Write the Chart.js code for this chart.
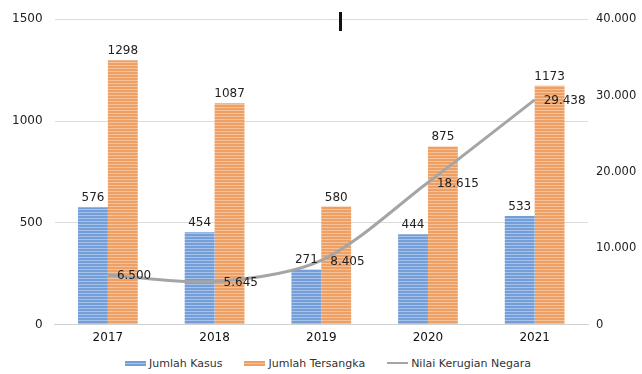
<!DOCTYPE html>
<html>
<head>
<meta charset="utf-8">
<script src="https://cdn.jsdelivr.net/npm/chart.js@4"></script>
<style>
    html, body { margin: 0; padding: 0; background: #fff; }
    #wrap { position: relative; width: 642px; height: 374px; overflow: hidden; }
    #chart { position: absolute; left: 0; top: 0; }
    #mark { position: absolute; left: 339px; top: 12px; width: 3px; height: 19px; background: #111; }
    #legend {
        position: absolute; left: 0; top: 355px; width: 656px; height: 16px;
        display: flex; justify-content: center; align-items: center; gap: 22px;
        font: 11px 'DejaVu Sans', sans-serif; color: #333;
    }
    .item { display: flex; align-items: center; gap: 3px; white-space: nowrap; }
    .swatch { width: 21px; height: 5px; }
</style>
</head>
<body>
<div id="wrap">
    <canvas id="chart" width="642" height="351"></canvas>
    <div id="mark"></div>
    <div id="legend"></div>
</div>
<script>
const years = ["2017", "2018", "2019", "2020", "2021"];
const jumlahKasus = [576, 454, 271, 444, 533];
const jumlahTersangka = [1298, 1087, 580, 875, 1173];
const nilaiKerugian = [6500, 5645, 8405, 18615, 29438];
const leftTicks = [0, 500, 1000, 1500];
const rightTicks = [0, 10000, 20000, 30000, 40000];

const FONT = "'DejaVu Sans', sans-serif";

const BLUE = ["#739ed8", "#a7c2ea"];
const ORANGE = ["#ee9f64", "#f6c29b"];
const GREY = "#a5a5a5";

function stripes(colors) {
    const c = document.createElement("canvas");
    c.width = 4;
    c.height = 3;
    const g = c.getContext("2d");
    g.fillStyle = colors[0];
    g.fillRect(0, 0, 4, 3);
    g.fillStyle = colors[1];
    g.fillRect(0, 2, 4, 1);
    return g.createPattern(c, "repeat");
}

function fmt(v) {
    return String(v).replace(/\B(?=(\d{3})+(?!\d))/g, ".");
}

const labelPlugin = {
    id: "valueLabels",
    afterDatasetsDraw(chart) {
        const ctx = chart.ctx;
        ctx.save();
        ctx.font = "12px " + FONT;
        ctx.fillStyle = "#222";
        chart.data.datasets.forEach((ds, i) => {
            const meta = chart.getDatasetMeta(i);
            meta.data.forEach((el, j) => {
                if (ds.type === "line") {
                    ctx.textAlign = "left";
                    ctx.textBaseline = "middle";
                    ctx.fillText(fmt(ds.data[j]), el.x + 9, el.y + 1);
                } else {
                    ctx.textAlign = "center";
                    ctx.textBaseline = "alphabetic";
                    ctx.fillText(String(ds.data[j]), el.x, el.y - 6);
                }
            });
        });
        ctx.restore();
    }
};

const ctx = document.getElementById("chart").getContext("2d");

const chart = new Chart(ctx, {
    data: {
        labels: years,
        datasets: [
            {
                type: "bar",
                label: "Jumlah Kasus",
                data: jumlahKasus,
                backgroundColor: stripes(BLUE),
                borderWidth: 0,
                yAxisID: "y",
                order: 1
            },
            {
                type: "bar",
                label: "Jumlah Tersangka",
                data: jumlahTersangka,
                backgroundColor: stripes(ORANGE),
                borderWidth: 0,
                yAxisID: "y",
                order: 1
            },
            {
                type: "line",
                label: "Nilai Kerugian Negara",
                data: nilaiKerugian,
                borderColor: GREY,
                backgroundColor: GREY,
                borderWidth: 3,
                pointRadius: 0,
                tension: 0.3,
                yAxisID: "y1",
                order: 0
            }
        ]
    },
    options: {
        responsive: false,
        animation: false,
        layout: {
            padding: { top: 10, left: 0, right: 0, bottom: 0 }
        },
        datasets: {
            bar: {
                categoryPercentage: 0.56,
                barPercentage: 1
            }
        },
        plugins: {
            legend: { display: false },
            tooltip: { enabled: false }
        },
        scales: {
            x: {
                grid: { display: false, drawTicks: false },
                border: { color: "#d0d0d0" },
                ticks: {
                    color: "#111",
                    font: { family: FONT, size: 12 },
                    padding: 6
                }
            },
            y: {
                position: "left",
                min: 0,
                max: 1500,
                afterBuildTicks: (axis) => {
                    axis.ticks = leftTicks.map((v) => ({ value: v }));
                },
                grid: { color: "#dcdcdc", drawTicks: false },
                border: { display: false },
                ticks: {
                    color: "#222",
                    font: { family: FONT, size: 12 },
                    padding: 12,
                    callback: (v) => String(v)
                }
            },
            y1: {
                position: "right",
                min: 0,
                max: 40000,
                afterBuildTicks: (axis) => {
                    axis.ticks = rightTicks.map((v) => ({ value: v }));
                },
                afterFit: (axis) => {
                    axis.width = 54;
                },
                grid: { display: false, drawTicks: false },
                border: { display: false },
                ticks: {
                    color: "#222",
                    font: { family: FONT, size: 11.5 },
                    padding: 8,
                    callback: (v) => fmt(v)
                }
            }
        }
    },
    plugins: [labelPlugin]
});

// legend drawn as html under the canvas
const legend = document.getElementById("legend");
chart.data.datasets.forEach((ds) => {
    const item = document.createElement("div");
    item.className = "item";
    const sw = document.createElement("span");
    sw.className = "swatch";
    if (ds.type === "line") {
        sw.style.height = "2px";
        sw.style.background = GREY;
    } else {
        const c = ds.label === "Jumlah Kasus" ? BLUE : ORANGE;
        sw.style.background =
            "repeating-linear-gradient(" + c[0] + " 0 2px, " + c[1] + " 2px 3px)";
    }
    const txt = document.createElement("span");
    txt.textContent = ds.label;
    item.appendChild(sw);
    item.appendChild(txt);
    legend.appendChild(item);
});
</script>
</body>
</html>
